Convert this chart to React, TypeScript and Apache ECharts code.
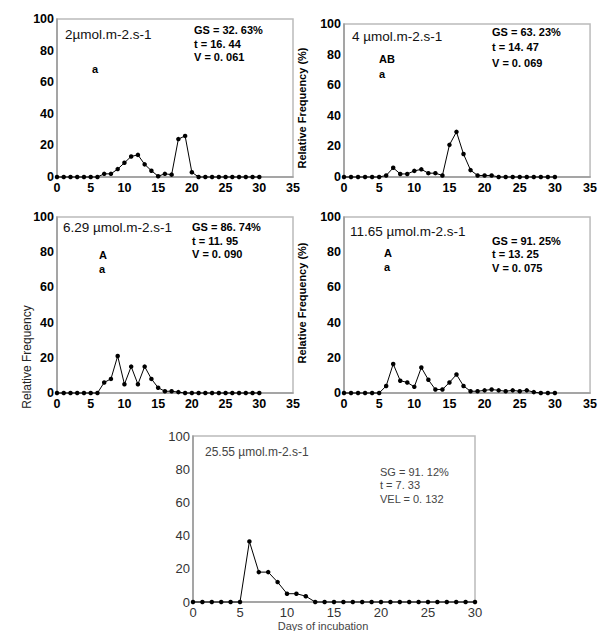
import React, { useEffect, useRef } from "react";
import * as echarts from "echarts";

const days = [0, 1, 2, 3, 4, 5, 6, 7, 8, 9, 10, 11, 12, 13, 14, 15, 16, 17, 18, 19, 20, 21, 22, 23, 24, 25, 26, 27, 28, 29, 30];

const freq2 = [0, 0, 0, 0, 0, 0, 0, 2, 2, 5, 9, 13, 14, 8, 4, 0.5, 2, 1.5, 24, 26, 3, 0, 0, 0, 0, 0, 0, 0, 0, 0, 0];
const freq4 = [0, 0, 0, 0, 0, 0, 1, 6, 2, 2, 4, 5, 2.5, 2.5, 1, 21, 29.5, 15, 4.5, 1, 1, 1, 0, 0, 0, 0, 0, 0, 0, 0, 0];
const freq629 = [0, 0, 0, 0, 0, 0, 0, 6, 8, 21, 5, 15, 5, 15, 8, 3, 1, 1, 0.5, 0, 0, 0, 0, 0, 0, 0, 0, 0, 0, 0, 0];
const freq1165 = [0, 0, 0, 0, 0, 0, 4, 16.5, 7, 6, 3.5, 14.5, 7.5, 2, 2, 6, 10.5, 4, 1, 1, 1.5, 2, 1.5, 1, 1.5, 1, 1.5, 0.5, 0, 0, 0];
const freq2555 = [0, 0, 0, 0, 0, 0, 36.5, 18, 18, 12, 5, 5, 3.5, 0, 0, 0, 0, 0, 0, 0, 0, 0, 0, 0, 0, 0, 0, 0, 0, 0, 0];

const panelSeries = [freq2, freq4, freq629, freq1165, freq2555];
const panelXMax = [35, 35, 35, 35, 30];

const panelTitles = ["2µmol.m-2.s-1", "4 µmol.m-2.s-1", "6.29 µmol.m-2.s-1", "11.65 µmol.m-2.s-1", "25.55 µmol.m-2.s-1"];
const panelStats = [
  ["GS = 32. 63%", "t = 16. 44", "V = 0. 061"],
  ["GS = 63. 23%", "t = 14. 47", "V = 0. 069"],
  ["GS = 86. 74%", "t = 11. 95", "V = 0. 090"],
  ["GS = 91. 25%", "t = 13. 25", "V = 0. 075"],
  ["SG = 91. 12%", "t = 7. 33", "VEL = 0. 132"],
];
const panelLetters = [["a"], ["AB", "a"], ["A", "a"], ["A", "a"], []];

const yLabel = "Relative Frequency";
const yLabelPct = "Relative Frequency (%)";
const xLabel = "Days of incubation";

// layout
const grids = [
  { left: 57, top: 19, width: 236, height: 158 },
  { left: 344, top: 24, width: 249, height: 153 },
  { left: 57, top: 217, width: 236, height: 176 },
  { left: 344, top: 217, width: 248, height: 176 },
  { left: 193, top: 436, width: 282, height: 166 },
];
const titlePos = [[65, 27], [352, 29], [63, 220], [350, 224], [205, 446]];
const statPos = [[194, 23.25, 13.5], [492, 23.75, 15.5], [192, 220.25, 13.5], [492, 233.75, 13.5], [380, 464.75, 13.5]];
const letterPos = [[92, 62.5, 13.5], [379, 51.5, 15], [99, 248.25, 13.5], [384, 245.5, 14], [0, 0, 13.5]];

const FONT = "'Liberation Sans', Arial, sans-serif";

export default function App() {
  const ref = useRef<HTMLDivElement>(null);
  useEffect(() => {
    if (!ref.current) return;
    const chart = echarts.init(ref.current, null, { renderer: "svg" });
    const isLast = (i: number) => i === 4;
    const graphic: any[] = [];
    panelTitles.forEach((t, i) => {
      graphic.push({
        type: "text", x: titlePos[i][0], y: titlePos[i][1],
        style: { text: t, font: `normal ${isLast(i) ? 12 : 13.5}px ${FONT}`, fill: isLast(i) ? "#444" : "#111" },
      });
      graphic.push({
        type: "text", x: statPos[i][0], y: statPos[i][1],
        style: {
          text: panelStats[i].join("\n"), font: `${isLast(i) ? "normal" : "bold"} 11px ${FONT}`,
          lineHeight: statPos[i][2], fill: isLast(i) ? "#444" : "#000",
        },
      });
      if (panelLetters[i].length) {
        graphic.push({
          type: "text", x: letterPos[i][0], y: letterPos[i][1],
          style: { text: panelLetters[i].join("\n"), font: `bold 11px ${FONT}`, lineHeight: letterPos[i][2], fill: "#000", align: "left" },
        });
      }
    });
    graphic.push({
      type: "text", x: 302, y: 108, rotation: Math.PI / 2,
      style: { text: yLabelPct, font: `bold 11px ${FONT}`, fill: "#000", align: "center", verticalAlign: "middle" },
    });
    graphic.push({
      type: "text", x: 302, y: 303, rotation: Math.PI / 2,
      style: { text: yLabelPct, font: `bold 11px ${FONT}`, fill: "#000", align: "center", verticalAlign: "middle" },
    });
    graphic.push({
      type: "text", x: 27, y: 357, rotation: Math.PI / 2,
      style: { text: yLabel, font: `normal 12px ${FONT}`, fill: "#222", align: "center", verticalAlign: "middle" },
    });
    graphic.push({
      type: "text", x: 323, y: 626,
      style: { text: xLabel, font: `normal 11px ${FONT}`, fill: "#444", align: "center", verticalAlign: "middle" },
    });

    const option: any = {
      animation: false,
      backgroundColor: "#fff",
      grid: grids.map((g) => ({ ...g, show: true, borderColor: "#bbb", borderWidth: 1.5, backgroundColor: "transparent" })),
      xAxis: grids.map((_, i) => ({
        type: "value", gridIndex: i, min: 0, max: panelXMax[i], interval: 5,
        axisLine: { show: true, lineStyle: { color: "#999", width: 1.5 } },
        axisTick: { show: false },
        splitLine: { show: false },
        axisLabel: {
          fontFamily: FONT, fontSize: isLast(i) ? 13 : 12.5, fontWeight: isLast(i) ? "normal" : "bold",
          color: isLast(i) ? "#333" : "#000", margin: 4,
        },
      })),
      yAxis: grids.map((_, i) => ({
        type: "value", gridIndex: i, min: 0, max: 100, interval: 20,
        axisLine: { show: true, lineStyle: { color: "#999", width: 1.5 } },
        axisTick: { show: false },
        splitLine: { show: false },
        axisLabel: {
          fontFamily: FONT, fontSize: isLast(i) ? 13 : 12.5, fontWeight: isLast(i) ? "normal" : "bold",
          color: isLast(i) ? "#333" : "#000", margin: 3,
        },
      })),
      series: panelSeries.map((vals, i) => ({
        type: "line", xAxisIndex: i, yAxisIndex: i,
        data: days.map((d, k) => [d, vals[k]]),
        symbol: "circle", symbolSize: 4.5, showSymbol: true,
        lineStyle: { color: "#000", width: 1 },
        itemStyle: { color: "#000" },
        clip: false,
      })),
      graphic,
    };
    chart.setOption(option);
    return () => chart.dispose();
  }, []);
  return <div ref={ref} style={{ position: "absolute", left: 0, top: 0, width: 600, height: 631 }} />;
}
